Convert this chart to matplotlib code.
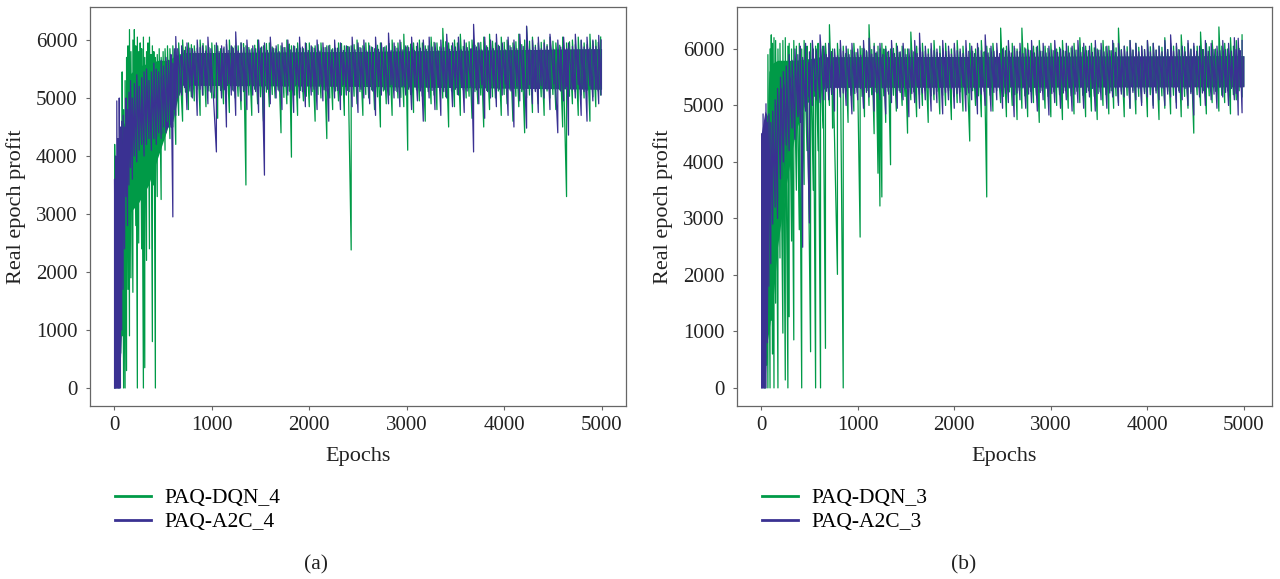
import numpy as np
import matplotlib
matplotlib.use('Agg')
import matplotlib.pyplot as plt
from matplotlib.lines import Line2D

plt.rcParams['font.family'] = ['Liberation Serif', 'DejaVu Serif']

GREEN = '#009a47'
BLUE = '#3a3192'

# ---------------- panel (a) ----------------
# dense core of each curve (epoch knots, low, high)
dqn4_core_ep = [100, 150, 250, 350, 450, 550, 650, 700, 2500, 4999]
dqn4_core_lo = [2500, 3000, 3200, 3500, 4000, 4500, 5000, 5230, 5210, 5160]
dqn4_core_hi = [4500, 5400, 5550, 5600, 5650, 5650, 5750, 5780, 5800, 5850]

a2c4_core_ep = [0, 50, 80, 110, 150, 200, 300, 400, 500, 600, 650, 700, 2500, 4999]
a2c4_core_lo = [0, 0, 1200, 2000, 3000, 3900, 4200, 4300, 4400, 4600, 5000, 5220, 5200, 5150]
a2c4_core_hi = [3500, 4300, 4500, 4600, 4800, 5000, 5200, 5300, 5400, 5500, 5700, 5780, 5800, 5850]

# single-epoch excursions (epoch, low, high)
dqn4_spikes = [
    (3, 0, 4200), (15, 2400, 3900), (30, 1200, 3700), (48, 0, 4000), (65, 600, 4300),
    (80, 900, 5450), (95, 0, 4800), (110, 0, 5300), (125, 300, 5700), (140, 1700, 5900),
    (155, 900, 6180), (170, 1900, 5800), (190, 1650, 6000), (205, 3300, 6180), (220, 2800, 5900),
    (236, 0, 6050), (250, 2500, 5800), (265, 3400, 5950), (280, 2400, 5850), (298, 0, 6050),
    (312, 350, 5700), (330, 2200, 5800), (345, 3600, 5950), (360, 2400, 6050), (375, 3700, 5750),
    (390, 800, 5900), (405, 3500, 5800), (421, 0, 5700), (440, 3300, 5750), (460, 4100, 5850),
    (480, 3250, 5700), (500, 4300, 5800), (520, 4100, 5850), (545, 4600, 5900), (570, 4300, 5850),
    (600, 4500, 5900), (630, 4200, 5850), (660, 4700, 5950),
    (700, 4600, 6000), (760, 4800, 5950), (820, 4950, 5900), (880, 4700, 6000), (940, 4850, 5900),
    (1000, 5000, 5950), (1060, 4650, 5900), (1120, 4900, 5850), (1180, 4750, 6000), (1240, 5000, 5900),
    (1300, 4800, 5950), (1350, 3500, 5900), (1410, 4700, 5850), (1470, 4900, 6000), (1530, 4600, 5900),
    (1590, 4850, 5950), (1650, 5000, 5850), (1710, 4400, 5900), (1770, 4900, 6000), (1817, 3980, 5900),
    (1880, 4700, 5950), (1940, 4950, 5850), (2000, 4850, 5950), (2060, 4600, 5900), (2120, 5000, 5950),
    (2180, 4300, 5900), (2240, 4800, 5850), (2300, 4950, 5950), (2360, 4700, 5900), (2430, 2380, 5900),
    (2490, 4900, 6000), (2550, 4700, 5900), (2610, 5000, 5950), (2670, 4800, 5850), (2730, 4500, 5950),
    (2790, 4900, 5900), (2850, 4700, 6000), (2910, 5000, 5950), (2970, 4850, 6100), (3010, 4100, 5900),
    (3070, 4750, 5950), (3130, 4950, 6000), (3190, 4600, 5900), (3250, 4900, 6050), (3310, 4800, 5950),
    (3370, 5000, 6200), (3430, 4500, 5950), (3490, 4850, 6000), (3550, 4700, 6100), (3610, 5000, 5950),
    (3670, 4650, 6000), (3730, 4900, 5950), (3790, 4500, 6050), (3850, 4800, 6100), (3910, 5000, 5950),
    (3970, 4700, 6050), (4030, 4900, 6000), (4090, 4600, 5950), (4150, 4850, 6100), (4210, 4400, 6000),
    (4230, 5000, 6230), (4290, 4750, 6050), (4350, 4900, 5950), (4410, 4700, 6000), (4470, 5000, 6050),
    (4530, 4800, 5950), (4600, 4500, 6050), (4640, 3300, 5950), (4700, 4900, 6000), (4760, 4700, 6050),
    (4820, 5000, 5950), (4880, 4600, 6100), (4940, 4850, 6000), (4990, 5050, 6050),
]
dqn4_minor = [
    (730, 5100, 5880), (790, 5020, 5920), (850, 5150, 5860), (910, 5050, 5940), (970, 5120, 5870),
    (1030, 5000, 5910), (1090, 5130, 5850), (1150, 5060, 5930), (1210, 5140, 5880), (1270, 5030, 5900),
    (1325, 5110, 5940), (1380, 5050, 5870), (1440, 5150, 5910), (1500, 5020, 5860), (1560, 5100, 5940),
    (1620, 5060, 5880), (1680, 5140, 5920), (1740, 5010, 5870), (1795, 5120, 5930), (1850, 5050, 5890),
    (1910, 5130, 5860), (1970, 5030, 5940), (2030, 5110, 5880), (2090, 5060, 5920), (2150, 5140, 5870),
    (2210, 5000, 5910), (2270, 5120, 5860), (2330, 5050, 5940), (2395, 5130, 5890), (2460, 5030, 5920),
    (2520, 5110, 5870), (2580, 5060, 5950), (2640, 5140, 5880), (2700, 5020, 5910), (2760, 5120, 5870),
    (2820, 5050, 5940), (2880, 5130, 5890), (2940, 5010, 5960), (2990, 5100, 5880), (3040, 5060, 5930),
    (3100, 5140, 5890), (3160, 5030, 5950), (3220, 5110, 5900), (3280, 5050, 5960), (3340, 5130, 5880),
    (3400, 5020, 5970), (3460, 5120, 5900), (3520, 5060, 5950), (3580, 5140, 5890), (3640, 5030, 5970),
    (3700, 5110, 5910), (3760, 5050, 5960), (3820, 5130, 5900), (3880, 5020, 5980), (3940, 5120, 5910),
    (4000, 5060, 5960), (4060, 5140, 5900), (4120, 5030, 5970), (4180, 5110, 5920), (4260, 5050, 5980),
    (4320, 5130, 5910), (4380, 5020, 5960), (4440, 5120, 5920), (4500, 5060, 5980), (4570, 5140, 5910),
    (4670, 5030, 5970), (4730, 5110, 5920), (4790, 5050, 5990), (4850, 5130, 5920), (4910, 5020, 5980),
    (4965, 5120, 5960),
]

a2c4_spikes = [
    (2, 0, 3600), (12, 0, 4000), (25, 0, 4950), (38, 0, 4300), (50, 0, 5000),
    (62, 0, 4500), (75, 1000, 4600), (90, 1700, 4700), (105, 2400, 4500), (120, 3300, 5000),
    (135, 2800, 4800), (150, 3500, 5100), (165, 3800, 5300), (185, 3600, 5000), (205, 4000, 5250),
    (230, 3900, 5400), (255, 4100, 5200), (280, 4200, 5350), (305, 4000, 5450), (330, 4200, 5500),
    (355, 4300, 5300), (380, 4100, 5450), (405, 4300, 5600), (430, 4200, 5500), (455, 4400, 5450),
    (480, 4300, 5650), (505, 4500, 5550), (530, 4400, 5700), (555, 4600, 5650), (580, 4500, 5750),
    (600, 2950, 5600), (615, 4800, 5850), (630, 4700, 6060), (650, 5000, 5850),
    (690, 5050, 5900), (745, 4800, 5950), (800, 5000, 5850), (850, 4700, 6000), (905, 5050, 5900),
    (960, 4900, 6050), (1047, 4070, 5950), (1100, 5000, 5900), (1150, 4500, 6000), (1200, 5050, 5900),
    (1245, 4700, 6140), (1300, 4950, 5950), (1360, 4800, 6000), (1420, 5050, 5900), (1480, 4750, 6000),
    (1540, 3670, 5950), (1600, 4900, 6050), (1660, 5000, 5900), (1720, 4800, 5950), (1780, 5050, 6000),
    (1840, 4750, 5900), (1900, 5000, 6050), (1960, 4850, 5950), (2020, 5050, 5900), (2080, 4800, 6000),
    (2140, 4950, 5950), (2200, 4600, 5900), (2260, 5000, 6000), (2320, 4800, 5950), (2380, 5050, 5900),
    (2440, 4850, 6050), (2500, 4750, 5950), (2560, 5000, 6000), (2620, 4900, 5900), (2680, 4700, 6050),
    (2740, 5050, 5950), (2813, 4900, 6120), (2870, 5000, 5950), (2930, 4850, 6000), (2990, 5050, 5900),
    (3050, 4800, 6050), (3110, 4950, 5950), (3170, 4600, 6000), (3230, 5000, 6050), (3290, 4800, 5950),
    (3350, 4700, 6000), (3410, 5000, 6100), (3470, 4850, 5950), (3530, 5050, 6050), (3590, 4750, 6000),
    (3686, 4070, 6270), (3740, 4900, 5950), (3800, 4650, 6050), (3860, 5000, 6000), (3920, 4850, 6100),
    (3980, 5050, 5950), (4040, 4700, 6050), (4100, 4500, 6000), (4160, 4950, 6100), (4230, 4480, 6240),
    (4290, 4900, 6000), (4350, 4750, 6050), (4410, 5000, 5950), (4470, 4800, 6100), (4550, 4400, 6000),
    (4610, 4950, 6050), (4660, 4360, 5950), (4730, 5000, 6100), (4790, 4700, 6000), (4850, 4600, 6050),
    (4910, 4950, 6000), (4970, 4900, 6080), (4995, 5050, 6000),
]
a2c4_minor = [
    (720, 5180, 5820), (775, 5120, 5860), (825, 5230, 5800), (880, 5150, 5870), (935, 5210, 5810),
    (990, 5100, 5850), (1075, 5220, 5800), (1125, 5140, 5880), (1175, 5240, 5820), (1220, 5120, 5860),
    (1270, 5200, 5810), (1330, 5130, 5870), (1390, 5230, 5830), (1450, 5110, 5850), (1510, 5210, 5880),
    (1570, 5150, 5820), (1630, 5240, 5860), (1690, 5120, 5800), (1750, 5200, 5870), (1810, 5140, 5830),
    (1870, 5230, 5850), (1930, 5110, 5880), (1990, 5210, 5820), (2050, 5150, 5860), (2110, 5240, 5810),
    (2170, 5120, 5870), (2230, 5200, 5830), (2290, 5130, 5860), (2350, 5230, 5820), (2410, 5110, 5880),
    (2470, 5210, 5830), (2530, 5150, 5860), (2590, 5240, 5810), (2650, 5120, 5870), (2710, 5200, 5840),
    (2775, 5140, 5880), (2840, 5230, 5820), (2900, 5110, 5860), (2960, 5210, 5830), (3020, 5150, 5870),
    (3080, 5240, 5820), (3140, 5120, 5860), (3200, 5200, 5840), (3260, 5130, 5880), (3320, 5230, 5820),
    (3380, 5110, 5870), (3440, 5210, 5840), (3500, 5150, 5880), (3560, 5240, 5830), (3620, 5120, 5870),
    (3660, 5200, 5850), (3715, 5140, 5880), (3770, 5230, 5830), (3830, 5110, 5870), (3890, 5210, 5850),
    (3950, 5150, 5890), (4010, 5240, 5830), (4070, 5120, 5870), (4130, 5200, 5850), (4195, 5140, 5890),
    (4260, 5230, 5840), (4320, 5110, 5880), (4380, 5210, 5850), (4440, 5150, 5890), (4510, 5240, 5840),
    (4580, 5120, 5880), (4640, 5200, 5850), (4700, 5140, 5890), (4760, 5230, 5840), (4820, 5110, 5880),
    (4880, 5210, 5860), (4940, 5150, 5890),
]

# ---------------- panel (b) ----------------
dqn3_core_ep = [40, 80, 120, 170, 250, 350, 450, 600, 700, 4999]
dqn3_core_lo = [600, 1000, 1500, 2500, 3500, 4500, 5000, 5250, 5330, 5340]
dqn3_core_hi = [3500, 5600, 5750, 5800, 5800, 5800, 5820, 5850, 5860, 5880]

a2c3_core_ep = [0, 40, 70, 100, 150, 200, 300, 400, 500, 600, 4999]
a2c3_core_lo = [0, 0, 1500, 2600, 3100, 3600, 4500, 4900, 5200, 5320, 5330]
a2c3_core_hi = [4500, 4900, 4800, 4850, 5000, 5300, 5500, 5650, 5800, 5860, 5880]

dqn3_spikes = [
    (42, 0, 3500), (55, 400, 4200), (70, 0, 5900), (92, 0, 6000), (105, 1200, 6250),
    (118, 600, 6100), (133, 0, 6200), (150, 1500, 6150), (174, 0, 6000), (195, 2300, 6100),
    (225, 970, 6150), (250, 140, 6200), (277, 0, 6050), (290, 1260, 6100), (315, 2600, 6000),
    (338, 850, 6150), (365, 3500, 6050), (395, 2800, 6100), (420, 0, 6000), (445, 3600, 6150),
    (475, 4200, 6050), (512, 640, 6100), (540, 3500, 6000), (564, 0, 6050), (590, 4200, 6100),
    (615, 0, 6000), (640, 4600, 6050), (666, 700, 6100), (707, 5000, 6430), (740, 4600, 6000),
    (790, 2010, 6100), (850, 0, 6050), (900, 4700, 6000), (960, 4900, 6100), (1025, 2670, 6050),
    (1070, 4800, 6000), (1117, 5000, 6430), (1170, 4500, 6100), (1210, 3800, 6050), (1230, 3220, 6000),
    (1250, 3380, 6100), (1290, 4700, 6050), (1340, 3950, 6000),
    (1400, 4900, 6100), (1460, 5000, 6050), (1516, 4510, 6000), (1550, 5100, 6300), (1610, 4800, 6050),
    (1670, 5000, 6100), (1730, 4700, 6000), (1790, 5100, 6150), (1850, 4850, 6050), (1910, 5000, 6100),
    (1970, 4750, 6000), (2030, 5050, 6150), (2090, 4900, 6050), (2160, 4370, 6100), (2220, 5000, 6000),
    (2280, 4800, 6150), (2336, 3380, 6050), (2400, 4900, 6100), (2480, 5050, 6370), (2540, 4800, 6050),
    (2600, 5000, 6100), (2650, 4750, 6000), (2700, 4950, 6370), (2760, 4800, 6100), (2820, 5050, 6050),
    (2880, 4700, 6150), (2940, 4950, 6050), (3000, 4800, 6100), (3060, 5000, 6000), (3120, 4750, 6150),
    (3180, 4950, 6050), (3240, 4850, 6100), (3300, 5050, 6200), (3360, 4800, 6050), (3420, 4900, 6100),
    (3480, 4750, 6000), (3540, 5000, 6150), (3600, 4850, 6050), (3650, 4950, 6100), (3700, 5050, 6370),
    (3760, 4800, 6050), (3820, 4950, 6150), (3880, 4850, 6100), (3940, 5050, 6050), (4000, 4800, 6150),
    (4060, 5000, 6100), (4120, 4750, 6050), (4180, 4950, 6200), (4240, 4850, 6100), (4300, 5050, 6050),
    (4350, 4800, 6250), (4420, 4950, 6100), (4480, 4510, 6050), (4550, 5000, 6300), (4610, 4850, 6100),
    (4670, 5050, 6150), (4740, 4900, 6390), (4800, 5050, 6100), (4860, 4850, 6200), (4920, 5100, 6150),
    (4980, 5150, 6250),
]
dqn3_minor = [
    (730, 5200, 5950), (820, 5150, 6000), (875, 5250, 5920), (930, 5180, 5980), (995, 5230, 5940),
    (1045, 5160, 6010), (1095, 5260, 5950), (1145, 5190, 5990), (1190, 5240, 5930), (1270, 5170, 6000),
    (1315, 5250, 5950), (1370, 5180, 6010), (1430, 5260, 5940), (1490, 5160, 6000), (1580, 5240, 5950),
    (1640, 5190, 6020), (1700, 5260, 5960), (1760, 5170, 6000), (1820, 5250, 5940), (1880, 5180, 6010),
    (1940, 5260, 5960), (2000, 5160, 6020), (2060, 5240, 5950), (2125, 5190, 6000), (2190, 5260, 5960),
    (2250, 5170, 6020), (2310, 5250, 5950), (2370, 5180, 6010), (2440, 5260, 5970), (2510, 5160, 6020),
    (2570, 5240, 5960), (2625, 5190, 6010), (2675, 5260, 5950), (2730, 5170, 6020), (2790, 5250, 5970),
    (2850, 5180, 6030), (2910, 5260, 5960), (2970, 5160, 6010), (3030, 5240, 5970), (3090, 5190, 6030),
    (3150, 5260, 5960), (3210, 5170, 6020), (3270, 5250, 5980), (3330, 5180, 6030), (3390, 5260, 5970),
    (3450, 5160, 6020), (3510, 5240, 5980), (3570, 5190, 6040), (3625, 5260, 5970), (3675, 5170, 6020),
    (3730, 5250, 5990), (3790, 5180, 6040), (3850, 5260, 5980), (3910, 5160, 6030), (3970, 5240, 5990),
    (4030, 5190, 6040), (4090, 5260, 5980), (4150, 5170, 6030), (4210, 5250, 5990), (4270, 5180, 6050),
    (4325, 5260, 5990), (4385, 5160, 6040), (4450, 5240, 6000), (4515, 5190, 6050), (4580, 5260, 5990),
    (4640, 5170, 6040), (4705, 5250, 6000), (4770, 5180, 6050), (4830, 5260, 6000), (4890, 5190, 6050),
    (4950, 5260, 6010),
]

a2c3_spikes = [
    (5, 0, 4500), (20, 0, 4850), (35, 0, 4600), (50, 0, 5030), (65, 800, 4700),
    (80, 1800, 4850), (100, 2200, 4700), (120, 2900, 4900), (145, 3200, 5100), (170, 3000, 5300),
    (200, 3700, 5500), (230, 4000, 5600), (260, 4300, 5700), (290, 4200, 5900), (320, 4600, 5800),
    (350, 4400, 6000), (380, 4800, 5900), (405, 4700, 6050), (430, 2490, 5850), (460, 4900, 6100),
    (500, 2920, 5950), (530, 5000, 6150), (570, 5100, 6000), (610, 5050, 6250), (650, 5100, 6050),
    (700, 5100, 6100), (760, 4900, 6000), (820, 5150, 6150), (880, 5000, 6050), (940, 4850, 6100),
    (1000, 5100, 6000), (1060, 4950, 6150), (1117, 5150, 6190), (1170, 4900, 6050), (1230, 5100, 6100),
    (1290, 4850, 6000), (1350, 5050, 6150), (1410, 4950, 6050), (1470, 5100, 6100), (1530, 4800, 6000),
    (1590, 5050, 6150), (1640, 4950, 6280), (1700, 5100, 6050), (1760, 4900, 6100), (1820, 5050, 6000),
    (1880, 4850, 6150), (1940, 5100, 6050), (2000, 4950, 6100), (2060, 5050, 6000), (2120, 4900, 6150),
    (2180, 5100, 6050), (2240, 4850, 6100), (2320, 5000, 6250), (2380, 4900, 6050), (2440, 5100, 6100),
    (2500, 4950, 6000), (2560, 5050, 6150), (2620, 4800, 6050), (2680, 5100, 6100), (2740, 4950, 6000),
    (2800, 5050, 6150), (2860, 4900, 6050), (2920, 5100, 6100), (2980, 4830, 6050), (3040, 5050, 6150),
    (3100, 4950, 6000), (3160, 5100, 6100), (3220, 4900, 6050), (3280, 5050, 6150), (3340, 4950, 6100),
    (3400, 5150, 6050), (3460, 4900, 6150), (3520, 5100, 6100), (3580, 4950, 6050), (3640, 5150, 6150),
    (3700, 5000, 6100), (3760, 5150, 6050), (3820, 4950, 6150), (3880, 5100, 6100), (3940, 5000, 6050),
    (4000, 5150, 6150), (4060, 4950, 6100), (4120, 5100, 6050), (4180, 5000, 6150), (4240, 5150, 6250),
    (4300, 4950, 6100), (4360, 5100, 6050), (4420, 5000, 6150), (4480, 4830, 6100), (4540, 5150, 6050),
    (4600, 5000, 6150), (4660, 5100, 6100), (4720, 4950, 6050), (4780, 5150, 6150), (4840, 5000, 6100),
    (4900, 5100, 6200), (4940, 4830, 6190), (4980, 4870, 6150),
]
a2c3_minor = [
    (675, 5250, 5900), (730, 5200, 5950), (790, 5300, 5880), (850, 5220, 5960), (910, 5320, 5900),
    (970, 5210, 5940), (1030, 5300, 5890), (1090, 5230, 5970), (1145, 5330, 5910), (1200, 5220, 5950),
    (1260, 5310, 5900), (1320, 5200, 5960), (1380, 5320, 5920), (1440, 5230, 5950), (1500, 5300, 5900),
    (1560, 5210, 5970), (1615, 5330, 5920), (1670, 5220, 5950), (1730, 5310, 5910), (1790, 5200, 5970),
    (1850, 5320, 5920), (1910, 5230, 5960), (1970, 5300, 5910), (2030, 5210, 5970), (2090, 5330, 5920),
    (2150, 5220, 5960), (2210, 5310, 5920), (2280, 5200, 5970), (2350, 5320, 5930), (2410, 5230, 5960),
    (2470, 5300, 5920), (2530, 5210, 5970), (2590, 5330, 5930), (2650, 5220, 5960), (2710, 5310, 5920),
    (2770, 5200, 5980), (2830, 5320, 5930), (2890, 5230, 5960), (2950, 5300, 5930), (3010, 5210, 5980),
    (3070, 5330, 5940), (3130, 5220, 5970), (3190, 5310, 5930), (3250, 5200, 5980), (3310, 5320, 5940),
    (3370, 5230, 5970), (3430, 5300, 5940), (3490, 5210, 5980), (3550, 5330, 5950), (3610, 5220, 5970),
    (3670, 5310, 5940), (3730, 5200, 5980), (3790, 5320, 5950), (3850, 5230, 5980), (3910, 5300, 5950),
    (3970, 5210, 5990), (4030, 5330, 5950), (4090, 5220, 5980), (4150, 5310, 5950), (4210, 5200, 5990),
    (4270, 5320, 5960), (4330, 5230, 5980), (4390, 5300, 5950), (4450, 5210, 5990), (4510, 5330, 5960),
    (4570, 5220, 5990), (4630, 5310, 5960), (4690, 5200, 5990), (4750, 5320, 5970), (4810, 5230, 5990),
    (4870, 5300, 5960), (4920, 5210, 5990), (4960, 5330, 5970),
]

x_ticks = [0, 1000, 2000, 3000, 4000, 5000]
y_ticks = [0, 1000, 2000, 3000, 4000, 5000, 6000]


def draw_curve(ax, core_ep, core_lo, core_hi, spikes, minor, color):
    ax.fill_between(core_ep, core_lo, core_hi, color=color, lw=0)
    pts = np.array(sorted(spikes + minor), dtype=float)
    ep, lo, hi = pts.T
    # each epoch swings from its low to its high; consecutive epochs joined
    x = np.repeat(ep, 2)
    y = np.column_stack([lo, hi]).ravel()
    ax.plot(x, y, color=color, lw=0.9)


def style_axis(ax, xlim, ylim, labels, caption, cap_x):
    ax.set_xlim(*xlim)
    ax.set_ylim(*ylim)
    ax.set_xticks(x_ticks)
    ax.set_yticks(y_ticks)
    for s in ax.spines.values():
        s.set_color('#666666')
        s.set_linewidth(0.9)
    ax.tick_params(direction='out', length=3, width=0.8, color='#666666',
                   labelsize=15, labelcolor='#222222')
    ax.tick_params(axis='x', pad=4)
    ax.tick_params(axis='y', pad=6)
    ax.set_xlabel('Epochs', fontsize=16, color='#222222', labelpad=9)
    ax.set_ylabel('Real epoch profit', fontsize=16, color='#222222', labelpad=7)
    handles = [Line2D([], [], color=GREEN, lw=2), Line2D([], [], color=BLUE, lw=2)]
    pos = ax.get_position()
    ax.legend(handles, labels, loc='upper left', frameon=False, fontsize=15.5,
              bbox_to_anchor=(pos.x0 + 25 / 1280, 1 - 488 / 579),
              bbox_transform=ax.figure.transFigure, borderpad=0, borderaxespad=0,
              handlelength=1.65, handletextpad=0.65, labelspacing=0.2)
    ax.figure.text(cap_x, 1 - 565 / 579, caption, ha='center', va='center',
                   fontsize=15.5, color='#222222')


fig = plt.figure(figsize=(12.8, 5.79), dpi=100)
ax1 = fig.add_axes([90 / 1280, 1 - 406 / 579, 536 / 1280, 399 / 579])
ax2 = fig.add_axes([737 / 1280, 1 - 406 / 579, 535 / 1280, 399 / 579])

draw_curve(ax1, dqn4_core_ep, dqn4_core_lo, dqn4_core_hi, dqn4_spikes, dqn4_minor, GREEN)
draw_curve(ax1, a2c4_core_ep, a2c4_core_lo, a2c4_core_hi, a2c4_spikes, a2c4_minor, BLUE)
style_axis(ax1, (-250, 5250), (-310, 6569), ['PAQ-DQN_4', 'PAQ-A2C_4'], '(a)', 316 / 1280)

draw_curve(ax2, dqn3_core_ep, dqn3_core_lo, dqn3_core_hi, dqn3_spikes, dqn3_minor, GREEN)
draw_curve(ax2, a2c3_core_ep, a2c3_core_lo, a2c3_core_hi, a2c3_spikes, a2c3_minor, BLUE)
style_axis(ax2, (-250, 5290), (-320, 6743), ['PAQ-DQN_3', 'PAQ-A2C_3'], '(b)', 964 / 1280)

fig.savefig('out.png', dpi=100)
